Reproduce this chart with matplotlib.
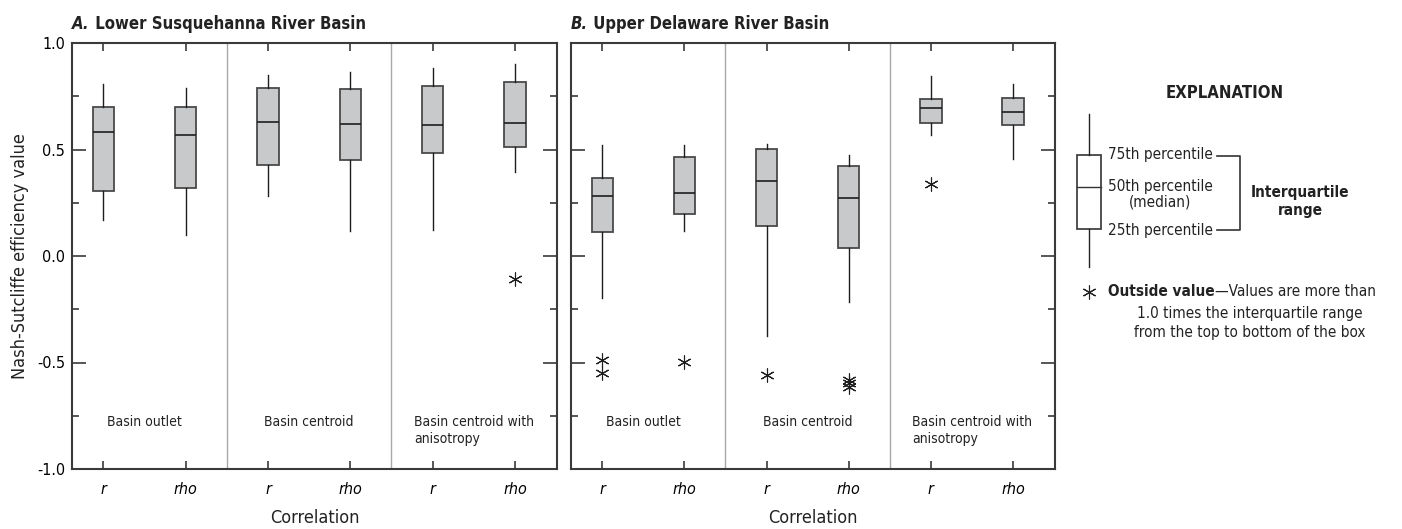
import matplotlib
matplotlib.use("Agg")
import matplotlib.pyplot as plt
from matplotlib.patches import Rectangle
from matplotlib.lines import Line2D

plt.rcParams['font.family'] = ['DejaVu Sans']
plt.rcParams['font.stretch'] = 'condensed'

# box statistics
corr_labels = ["r", "rho", "r", "rho", "r", "rho"]
section_labels = ["Basin outlet", "Basin centroid", "Basin centroid with\nanisotropy"]

# A. Lower Susquehanna River Basin
a_whislo = [0.170, 0.097, 0.282, 0.119, 0.122, 0.396]
a_q1 = [0.304, 0.319, 0.429, 0.449, 0.482, 0.510]
a_med = [0.584, 0.570, 0.631, 0.620, 0.615, 0.623]
a_q3 = [0.701, 0.701, 0.787, 0.782, 0.797, 0.817]
a_whishi = [0.806, 0.787, 0.851, 0.865, 0.881, 0.901]
a_fliers = [[], [], [], [], [], [-0.108]]

# B. Upper Delaware River Basin
b_whislo = [-0.196, 0.116, -0.376, -0.217, 0.567, 0.457]
b_q1 = [0.114, 0.197, 0.141, 0.038, 0.624, 0.617]
b_med = [0.282, 0.294, 0.354, 0.271, 0.696, 0.675]
b_q3 = [0.366, 0.465, 0.504, 0.424, 0.736, 0.740]
b_whishi = [0.520, 0.520, 0.525, 0.473, 0.845, 0.808]
b_fliers = [[-0.488, -0.548], [-0.496], [-0.557], [-0.580, -0.598, -0.615], [0.338], []]

W, H = 1402, 529
fig = plt.figure(figsize=(W / 100, H / 100), dpi=100)

ax_a = fig.add_axes([72 / W, 1 - 469 / H, 485 / W, 426 / H])
ax_b = fig.add_axes([571 / W, 1 - 469 / H, 484 / W, 426 / H])

box_face = "#c8c9cb"
edge = "#4a4a4a"
spine_col = "#3a3a3a"
div_col = "#a8a8a8"
asterisk = (6, 2, 0)


def draw_panel(ax, whislo, q1, med, q3, whishi, fliers, letter, title):
    stats = []
    for i in range(len(med)):
        stats.append(dict(whislo=whislo[i], q1=q1[i], med=med[i], q3=q3[i],
                          whishi=whishi[i], fliers=fliers[i]))
    pos = list(range(1, len(med) + 1))
    ax.bxp(stats, positions=pos, widths=0.26, patch_artist=True, showcaps=False,
           boxprops=dict(facecolor=box_face, edgecolor=edge, linewidth=1.3),
           medianprops=dict(color="#1e1e1e", linewidth=1.2),
           whiskerprops=dict(color="#1e1e1e", linewidth=1.0),
           flierprops=dict(marker=asterisk, markersize=10, markeredgecolor="#1e1e1e",
                           markeredgewidth=0.8, linestyle="none"))
    ax.set_xlim(0.62, 6.51)
    ax.set_ylim(-1.0, 1.0)
    for xd in [2.5, 4.5]:
        ax.axvline(xd, color=div_col, linewidth=1.0, zorder=0)
    for k, lab in enumerate(section_labels):
        ax.text(2 * k + 1.5, -0.745, lab, fontsize=10, color="#222222",
                ha="center", va="top", multialignment="left", linespacing=1.3)
    ax.set_xticks(pos)
    ax.set_xticklabels(corr_labels, fontstyle="italic", fontsize=11.5)
    ax.set_yticks([-1.0, -0.5, 0.0, 0.5, 1.0])
    ax.set_yticks([-0.75, -0.25, 0.25, 0.75], minor=True)
    ax.tick_params(axis="both", which="both", direction="in", top=True, right=True,
                   color=spine_col, width=1.2)
    ax.tick_params(axis="y", which="major", length=10, pad=5, labelsize=11.5)
    ax.tick_params(axis="y", which="minor", length=5)
    ax.tick_params(axis="x", which="major", length=6, pad=9)
    for s in ax.spines.values():
        s.set_color(spine_col)
        s.set_linewidth(1.5)
    ax.set_xlabel("Correlation", fontsize=13, labelpad=9, color="#222222")
    t1 = ax.text(0.0, 1.045, letter, transform=ax.transAxes, fontsize=12,
                 fontweight="bold", fontstyle="italic", ha="left", va="center",
                 color="#222222")
    ax.annotate(" " + title, xy=(1, 0.5), xycoords=t1, fontsize=12,
                fontweight="bold", ha="left", va="center", color="#222222")


draw_panel(ax_a, a_whislo, a_q1, a_med, a_q3, a_whishi, a_fliers,
           "A.", "Lower Susquehanna River Basin")
draw_panel(ax_b, b_whislo, b_q1, b_med, b_q3, b_whishi, b_fliers,
           "B.", "Upper Delaware River Basin")

ax_a.set_ylabel("Nash-Sutcliffe efficiency value", fontsize=13, labelpad=6,
                color="#222222")
ax_a.set_yticklabels(["-1.0", "-0.5", "0.0", "0.5", "1.0"])
ax_b.set_yticklabels([])

# explanation drawn in pixel coordinates
ex = fig.add_axes([0, 0, 1, 1], facecolor="none")
ex.set_xlim(0, W)
ex.set_ylim(H, 0)
ex.axis("off")
txt = "#222222"
ex.text(1225, 93, "EXPLANATION", fontsize=12, fontweight="bold", ha="center",
        va="center", color=txt)
bx, bw = 1089, 24
ex.add_line(Line2D([bx, bx], [114, 155], color="#222222", linewidth=1.0))
ex.add_line(Line2D([bx, bx], [229, 267], color="#222222", linewidth=1.0))
ex.add_patch(Rectangle((bx - bw / 2, 155), bw, 229 - 155, facecolor="white",
                       edgecolor="#333333", linewidth=1.2))
ex.add_line(Line2D([bx - bw / 2, bx + bw / 2], [187, 187], color="#333333",
                   linewidth=1.0))
ex.text(1108, 155, "75th percentile", fontsize=11, ha="left", va="center", color=txt)
ex.text(1160, 194, "50th percentile\n(median)", fontsize=11, ha="center",
        va="center", color=txt, linespacing=1.05)
ex.text(1108, 230, "25th percentile", fontsize=11, ha="left", va="center", color=txt)
ex.add_line(Line2D([1217, 1240, 1240, 1217], [156, 156, 230, 230],
                   color="#333333", linewidth=1.2))
ex.text(1300, 201, "Interquartile\nrange", fontsize=11, fontweight="bold",
        ha="center", va="center", color=txt, linespacing=1.25)
ex.plot([1089], [292], marker=asterisk, markersize=10, markeredgecolor="#222222",
        markeredgewidth=0.8, linestyle="none")
t_ov = ex.text(1108, 292, "Outside value", fontsize=11, fontweight="bold",
               ha="left", va="center", color=txt)
ex.annotate("\u2014Values are more than", xy=(1, 0.5), xycoords=t_ov, fontsize=11,
            ha="left", va="center", color=txt)
ex.text(1250, 323, "1.0 times the interquartile range\nfrom the top to bottom of the box",
        fontsize=11, ha="center", va="center", color=txt, linespacing=1.3)

fig.savefig("out.png", dpi=100)
